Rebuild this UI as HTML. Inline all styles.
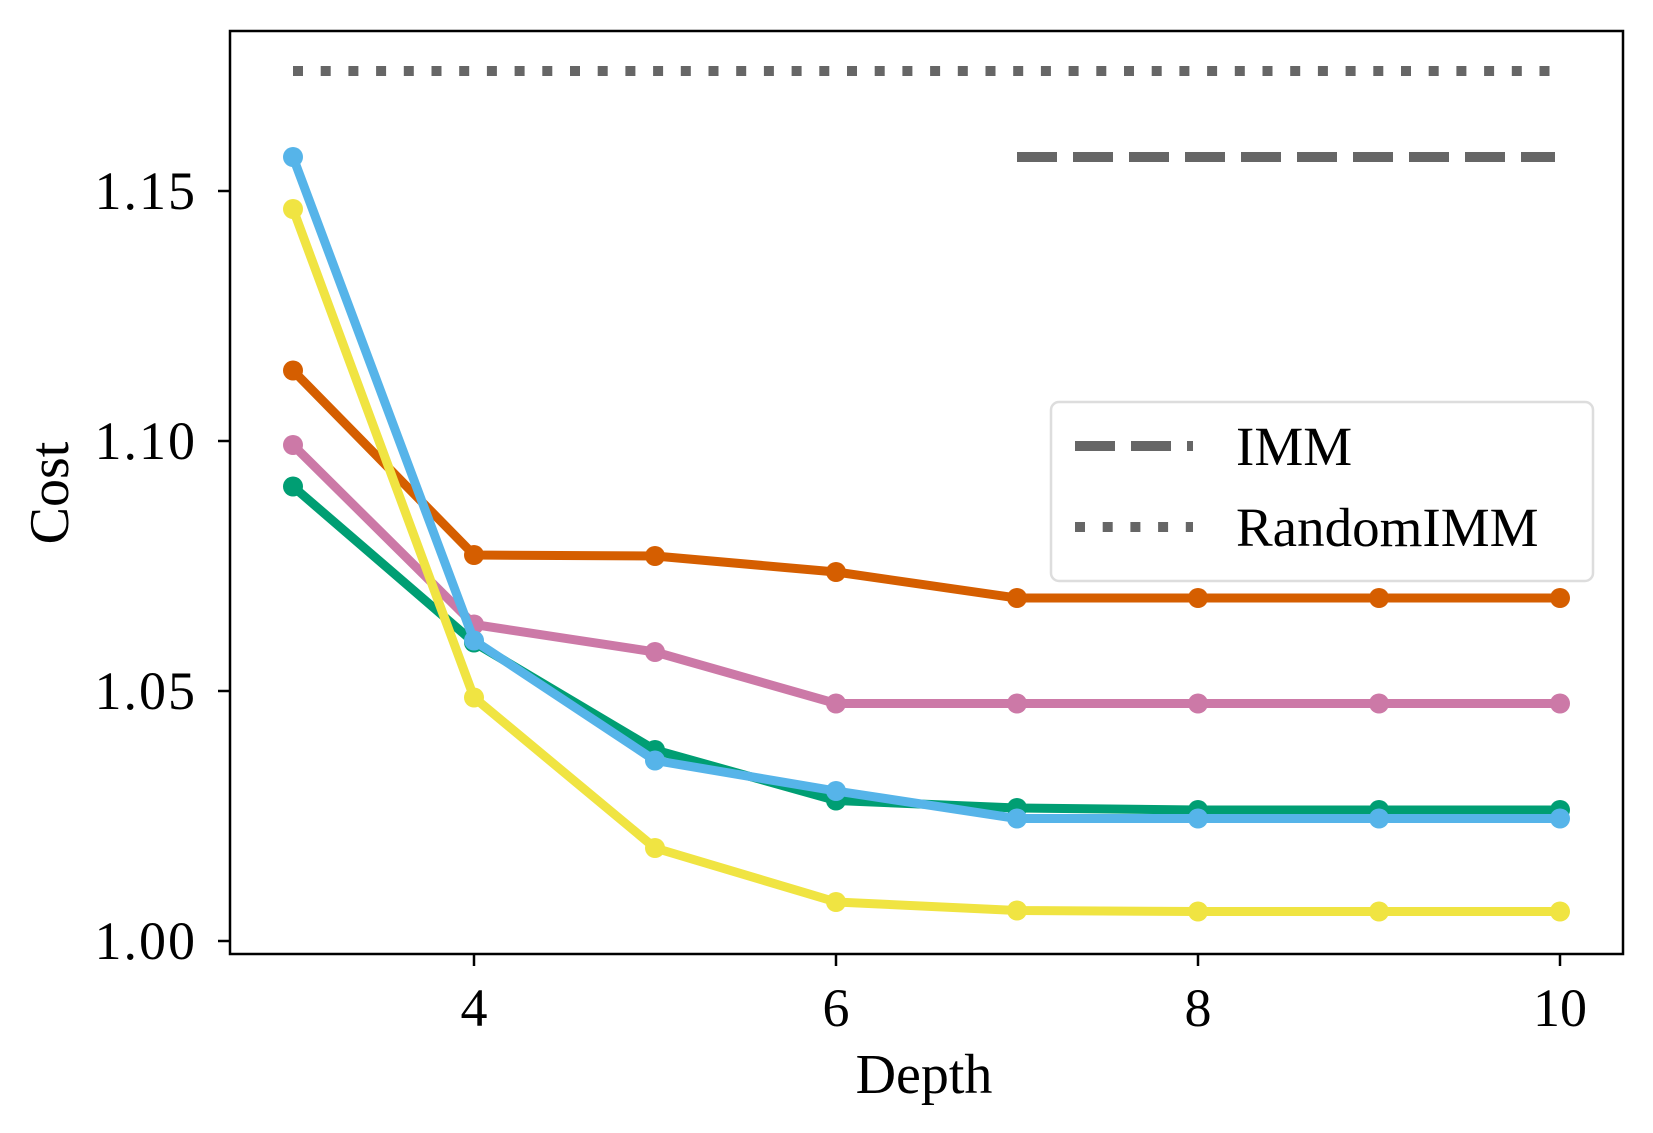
<!DOCTYPE html>
<html><head><meta charset="utf-8"><style>
html,body{margin:0;padding:0;background:#fff}
svg{display:block}
text{font-family:"Liberation Serif",serif;fill:#000}
</style></head><body>
<svg id="chart" width="1653" height="1133" viewBox="0 0 1653 1133" xmlns="http://www.w3.org/2000/svg"></svg>
<script>
const depths=[3,4,5,6,7,8,9,10];
const orangeVals=[1.1141,1.0772,1.0770,1.0738,1.0686,1.0686,1.0686,1.0686];
const pinkVals=[1.0992,1.0633,1.0578,1.0475,1.0475,1.0475,1.0475,1.0475];
const greenVals=[1.0909,1.0597,1.0382,1.0281,1.0266,1.0262,1.0262,1.0262];
const blueVals=[1.1568,1.0601,1.0361,1.0300,1.0245,1.0245,1.0245,1.0245];
const yellowVals=[1.1464,1.0487,1.0186,1.0078,1.0061,1.0059,1.0059,1.0059];
const immValue=1.1568;
const immRange=[7,10];
const randomImmValue=1.174;
const randomImmRange=[3,10];
const xTicks=[4,6,8,10];
const yTicks=[1.00,1.05,1.10,1.15];
const yTickLabels=["1.00","1.05","1.10","1.15"];

const NS="http://www.w3.org/2000/svg";
const svg=document.getElementById('chart');
const L=230,R=1623,T=31,B=954;
const xs=d=>474+(d-4)*181;
const ys=v=>941-(v-1)*5000;
function mk(tag,attrs,parent){const e=document.createElementNS(NS,tag);for(const k in attrs)e.setAttribute(k,attrs[k]);(parent||svg).appendChild(e);return e;}

const frame=mk('rect',{x:L,y:T,width:R-L,height:B-T,fill:'none',stroke:'#000','stroke-width':2.5});



const rl=mk('line',{x1:xs(randomImmRange[0]),x2:xs(randomImmRange[1])-8,y1:ys(randomImmValue),y2:ys(randomImmValue),stroke:'#666','stroke-width':10,'stroke-dasharray':'10 17.7'});


const il=mk('line',{x1:xs(immRange[0]),x2:xs(immRange[1])-5,y1:ys(immValue),y2:ys(immValue),stroke:'#666','stroke-width':10,'stroke-dasharray':'40 16'});



const order=[['orange',orangeVals,'#D55E00'],['pink',pinkVals,'#CC79A7'],['green',greenVals,'#009E73'],['yellow',yellowVals,'#F0E442'],['blue',blueVals,'#56B4E9']];
order.forEach(([n,vals,c])=>{
  const g=mk('g',{});
  
  
  const p=mk('polyline',{points:vals.map((v,i)=>xs(depths[i])+','+ys(v)).join(' '),fill:'none',stroke:c,'stroke-width':9,'stroke-linejoin':'round'},g);
  
  
  vals.forEach((v,i)=>{
    const m=mk('circle',{cx:xs(depths[i]),cy:ys(v),r:10,fill:c},g);
    
    
  });
});

xTicks.forEach(t=>{
  const tk=mk('line',{x1:xs(t),x2:xs(t),y1:B,y2:B+12,stroke:'#000','stroke-width':2.5});
  
  
  const lb=mk('text',{x:xs(t),y:1026,'text-anchor':'middle','font-size':54});
  lb.textContent=t;
  
  
});
yTicks.forEach((t,i)=>{
  const tk=mk('line',{x1:L-12,x2:L,y1:ys(t),y2:ys(t),stroke:'#000','stroke-width':2.5});
  
  
  const lb=mk('text',{x:197,y:ys(t)+18,'text-anchor':'end','font-size':54,'letter-spacing':2});
  lb.textContent=yTickLabels[i];
  
  
});
const xt=mk('text',{x:924,y:1093,'text-anchor':'middle','font-size':56});
xt.textContent='Depth';


const yt=mk('text',{x:0,y:0,'text-anchor':'middle','font-size':56,transform:'translate(68,493) rotate(-90)'});
yt.textContent='Cost';



const lg=mk('g',{});


mk('rect',{x:1051,y:402,width:542,height:179,rx:8,fill:'#fff',stroke:'#ddd','stroke-width':2.5},lg);
const e1=mk('g',{},lg);


mk('line',{x1:1075,x2:1193,y1:446,y2:446,stroke:'#666','stroke-width':10,'stroke-dasharray':'40 16'},e1);
const t1=mk('text',{x:1236,y:465,'font-size':55},e1);t1.textContent='IMM';
const e2=mk('g',{},lg);


mk('line',{x1:1075,x2:1193,y1:527,y2:527,stroke:'#666','stroke-width':10,'stroke-dasharray':'10 17.7'},e2);
const t2=mk('text',{x:1236,y:546,'font-size':55},e2);t2.textContent='RandomIMM';
</script>
</body></html>
